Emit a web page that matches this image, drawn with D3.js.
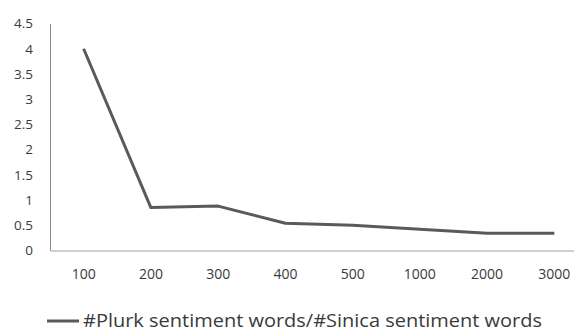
<!DOCTYPE html>
<html>
<head>
<meta charset="utf-8">
<script src="https://cdn.jsdelivr.net/npm/d3@7"></script>
<style>
  html, body { margin: 0; padding: 0; background: #fff; }
  svg { display: block; }
  text { font-family: "Open Sans", "Noto Sans", sans-serif; fill: #3a3a3a; }
</style>
</head>
<body>
<svg id="chart" width="574" height="332"></svg>
<script>
// Ratio of Plurk sentiment words to Sinica sentiment words by sample size
const categories = ["100", "200", "300", "400", "500", "1000", "2000", "3000"];
const ratios = [4.0, 0.85, 0.88, 0.54, 0.5, 0.42, 0.34, 0.34];
const yTicks = [0, 0.5, 1, 1.5, 2, 2.5, 3, 3.5, 4, 4.5];
const seriesName = "#Plurk sentiment words/#Sinica sentiment words";

const svg = d3.select("#chart");
const plot = { left: 50, right: 588, top: 23.5, bottom: 250.5 };

const x = d3.scaleBand().domain(categories).range([plot.left, plot.right]);
const y = d3.scaleLinear().domain([0, 4.5]).range([plot.bottom, plot.top]);

// y axis: labels and a thin vertical rule
const yAxis = svg.append("g")
  .attr("transform", `translate(${plot.left},0)`)
  .call(d3.axisLeft(y).tickValues(yTicks).tickSize(0).tickPadding(17)
    .tickFormat(d => String(d)));
yAxis.select(".domain").attr("stroke", "#8c8c8c").attr("stroke-width", 1);
yAxis.selectAll("text").style("font-size", "13.5px").attr("fill", "#3a3a3a");

// x axis: category labels and the baseline
const xAxis = svg.append("g")
  .attr("transform", `translate(0,${plot.bottom})`)
  .call(d3.axisBottom(x).tickSize(0).tickPadding(19));
xAxis.select(".domain").attr("stroke", "#bfbfbf").attr("stroke-width", 1.5);
xAxis.selectAll("text").style("font-size", "14px").attr("fill", "#3a3a3a");

// the series line
const line = d3.line()
  .x((d, i) => x(categories[i]) + x.bandwidth() / 2)
  .y(d => y(d));
svg.append("path")
  .datum(ratios)
  .attr("fill", "none")
  .attr("stroke", "#5a5a5a")
  .attr("stroke-width", 3)
  .attr("stroke-linejoin", "round")
  .attr("d", line);

// legend
const legend = svg.append("g").attr("transform", "translate(47,321)");
legend.append("line")
  .attr("x1", 0).attr("x2", 32).attr("y1", 0).attr("y2", 0)
  .attr("stroke", "#5a5a5a").attr("stroke-width", 3);
legend.append("text")
  .attr("x", 36).attr("y", 0).attr("dy", "0.33em")
  .attr("textLength", 459)
  .attr("lengthAdjust", "spacingAndGlyphs")
  .style("font-size", "19px")
  .attr("fill", "#2a2a2a")
  .text(seriesName);
</script>
</body>
</html>
